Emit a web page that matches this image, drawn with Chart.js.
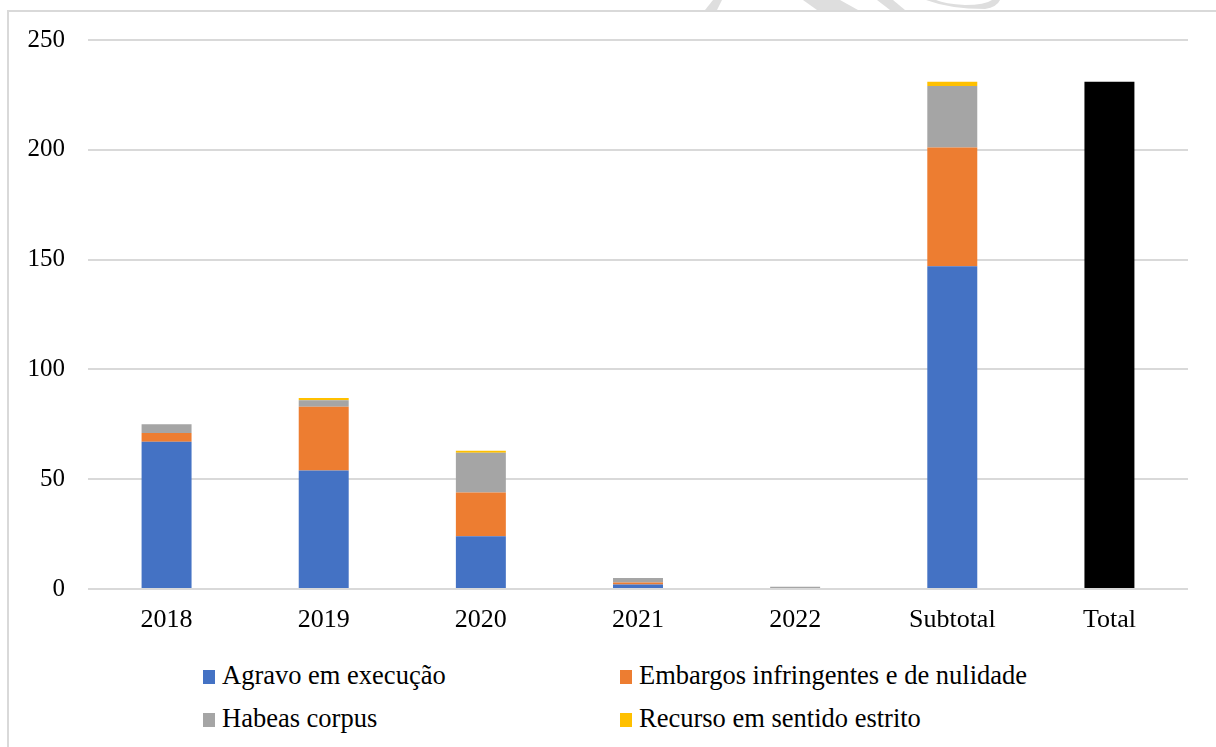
<!DOCTYPE html>
<html>
<head>
<meta charset="utf-8">
<script src="https://cdn.jsdelivr.net/npm/chart.js@4"></script>
<style>
  body { margin: 0; background: #fff; overflow: hidden; }
  #frame {
    position: absolute; left: 7px; top: 10px; width: 1230px; height: 760px;
    border: 2px solid #d9d9d9; box-sizing: border-box;
  }
  #stamp { position: absolute; left: 0; top: 0; }
  #wrap { position: absolute; left: 0; top: 0; width: 1216px; height: 650px; }
  #legend { position: absolute; left: 203px; top: 660px; width: 900px; }
  .item {
    position: absolute; white-space: nowrap; height: 30px; line-height: 30px;
    font-family: "Liberation Serif", serif; font-size: 26.5px; color: #000;
  }
  .box { display: inline-block; width: 12px; height: 14px; margin-right: 7px; vertical-align: 0px; }
</style>
</head>
<body>
<!-- faint stamp fragments along the top edge of the page -->
<svg id="stamp" width="1216" height="12">
  <g fill="#dedede">
    <polygon points="705,10 717,10 722,0 713,0"/>
    <polygon points="803,0 840,0 858,10 817,10"/>
    <polygon points="877,0 893,0 905,10 890,10"/>
    <path d="M926,0 Q950,9 985,9 Q997,7 1000,0 L992,0 Q985,5 965,5 Q945,4 936,0 Z"/>
  </g>
</svg>
<div id="frame"></div>
<div id="wrap"><canvas id="myChart"></canvas></div>
<div id="legend"></div>
<script>
const years = ["2018", "2019", "2020", "2021", "2022"];
const agravo = [67, 54, 24, 2, 0];
const embargos = [4, 29, 20, 1, 0];
const habeas = [4, 3, 18, 2, 1];
const recurso = [0, 1, 1, 0, 0];
const yTicks = [0, 50, 100, 150, 200, 250];

const seriesNames = ["Agravo em execução", "Embargos infringentes e de nulidade", "Habeas corpus", "Recurso em sentido estrito"];
const seriesColors = ["#4472C4", "#ED7D31", "#A5A5A5", "#FFC000"];
const seriesData = [agravo, embargos, habeas, recurso];

function sum(arr) { return arr.reduce((a, b) => a + b, 0); }

// years + Subtotal column (stacked sums) + Total column (single black bar)
const labels = years.concat(["Subtotal", "Total"]);
const subtotals = seriesData.map(sum);
const total = sum(subtotals);

const datasets = seriesData.map((d, i) => ({
  label: seriesNames[i],
  data: d.concat([subtotals[i], null]),
  backgroundColor: seriesColors[i],
  borderWidth: 0,
}));
datasets.push({
  label: "Total",
  data: years.map(() => null).concat([null, total]),
  backgroundColor: "#000000",
  borderWidth: 0,
});

const serif = "'Liberation Serif', serif";

new Chart(document.getElementById("myChart"), {
  type: "bar",
  data: { labels: labels, datasets: datasets },
  options: {
    responsive: true,
    maintainAspectRatio: false,
    animation: false,
    layout: { padding: { top: 40, right: 28, left: 0, bottom: 0 } },
    datasets: { bar: { categoryPercentage: 1, barPercentage: 0.318 } },
    plugins: { legend: { display: false }, tooltip: { enabled: false } },
    scales: {
      x: {
        stacked: true,
        grid: { display: false, drawTicks: false },
        border: { display: false },
        ticks: { color: "#000", font: { family: serif, size: 26 }, padding: 16 },
        afterFit: (s) => { s.height = 61; },
      },
      y: {
        stacked: true,
        min: 0,
        max: 250,
        afterBuildTicks: (s) => { s.ticks = yTicks.map((v) => ({ value: v })); },
        grid: { color: "#d9d9d9", lineWidth: 2, drawTicks: false },
        border: { display: false },
        ticks: { color: "#000", font: { family: serif, size: 25 }, padding: 23 },
        afterFit: (s) => { s.width = 88; },
      },
    },
  },
});

// two-column legend below the chart
const legend = document.getElementById("legend");
const cols = [0, 417];
const rows = [0, 43];
seriesNames.forEach((name, i) => {
  const el = document.createElement("div");
  el.className = "item";
  el.style.left = cols[i % 2] + "px";
  el.style.top = rows[Math.floor(i / 2)] + "px";
  const box = document.createElement("span");
  box.className = "box";
  box.style.background = seriesColors[i];
  el.appendChild(box);
  el.appendChild(document.createTextNode(name));
  legend.appendChild(el);
});
</script>
</body>
</html>
